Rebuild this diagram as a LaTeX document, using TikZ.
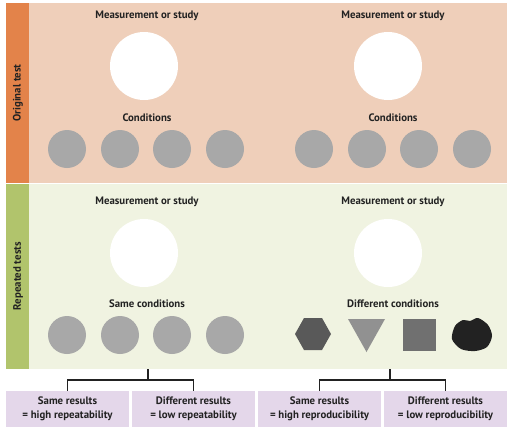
\documentclass[tikz,border=0pt]{standalone}
\usepackage{fontspec}
\setmainfont{PT Sans}
\usepackage{xcolor}
\usepackage{tikz}
\definecolor{rust}{HTML}{E3834A}
\definecolor{peach}{HTML}{EFCFBA}
\definecolor{olive}{HTML}{B1C46C}
\definecolor{pale}{HTML}{F0F3E1}
\definecolor{lilac}{HTML}{E4D7EA}
\definecolor{stone}{HTML}{A8A8A8}
\definecolor{ink}{HTML}{222222}
\tikzset{
  lbl/.style={font=\bfseries\fontsize{10.8}{12}\selectfont, text=ink, inner sep=0},
  resbox/.style={fill=lilac, minimum width=123, minimum height=36, inner sep=0,
    align=center, font=\bfseries\fontsize{10.8}{13.5}\selectfont, text=ink},
  link/.style={draw=ink, line width=1.1pt}
}

\begin{document}
\begin{tikzpicture}[x=1pt,y=-1pt]
  \useasboundingbox (0,0) rectangle (514,432);
  % panels
  \fill[rust] (6,3) rectangle (29,183);
  \fill[peach] (29,3) rectangle (507,183);
  \fill[olive] (6,184) rectangle (29,369);
  \fill[pale] (29,184) rectangle (507,369);
  \node[lbl, rotate=90] (orig) at (18,93) {Original test};
  \node[lbl, rotate=90] (rep) at (18,276) {Repeated tests};

  % original test
  \node[lbl] (measA) at (147,16) {Measurement or study};
  \node[lbl] (measB) at (393,16) {Measurement or study};
  \fill[white] (144,66) circle[radius=34pt];
  \fill[white] (388,66) circle[radius=34pt];
  \node[lbl] (condA) at (147,118) {Conditions};
  \node[lbl] (condB) at (393,118) {Conditions};
  \foreach \x in {67,120,172,225} {
    \fill[stone] (\x,149) circle[radius=19pt];
    \fill[stone] (\x+247,149) circle[radius=19pt];
  }

  % repeated tests
  \node[lbl] (measC) at (147,202) {Measurement or study};
  \node[lbl] (measD) at (393,202) {Measurement or study};
  \fill[white] (144,253) circle[radius=34pt];
  \fill[white] (388,253) circle[radius=34pt];
  \node[lbl] (same) at (147,304) {Same conditions};
  \node[lbl] (diff) at (393,304) {Different conditions};
  \foreach \x in {67,120,172,225}
    \fill[stone] (\x,335) circle[radius=19pt];
  \fill[ink!75] (295,334) -- (304,318) -- (322,318) -- (331,334) -- (322,350) -- (304,350) -- cycle;
  \fill[black!43] (348,319) -- (385,319) -- (366.5,352) -- cycle;
  \fill[black!56] (403,319) rectangle (436,351);
  \fill[ink] plot[smooth cycle] coordinates {(455,326) (463,320) (470,321) (478,318) (488,325) (492,336) (487,347) (475,351) (461,349) (452,339)};

  % results
  \node[resbox] (sameL) at (67.5,409) {Same results\\= high repeatability};
  \node[resbox] (diffL) at (193.5,409) {Different results\\= low repeatability};
  \node[resbox] (sameR) at (319.5,409) {Same results\\= high reproducibility};
  \node[resbox] (diffR) at (445.5,409) {Different results\\= low reproducibility};
  \coordinate (stemL) at (148,369);
  \coordinate (hubL) at (148,380);
  \coordinate (stemR) at (390,369);
  \coordinate (hubR) at (390,380);
  \draw[link] (stemL) -- (hubL);
  \draw[link] (sameL.north) |- (hubL) -| (diffL.north);
  \draw[link] (stemR) -- (hubR);
  \draw[link] (sameR.north) |- (hubR) -| (diffR.north);
\end{tikzpicture}
\end{document}
